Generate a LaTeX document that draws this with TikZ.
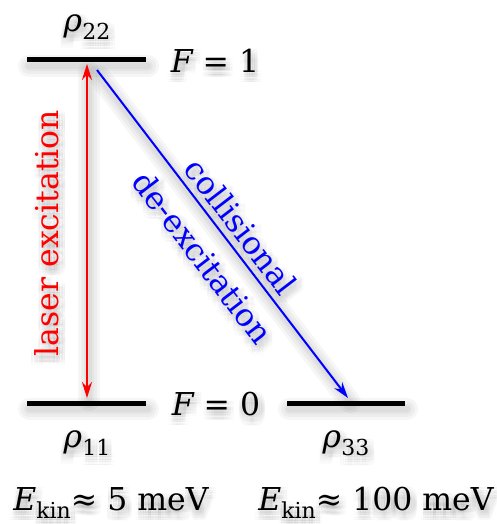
\documentclass[tikz,border=0pt]{standalone}
\usepackage{fontspec}
\setmainfont{DejaVu Serif}
\usetikzlibrary{arrows.meta,calc}
\newcommand{\sbs}[1]{\raisebox{-0.25em}{\fontsize{22}{22}\selectfont #1}}
% soft shadow copies of a text
\newcommand{\txtshadow}[3]{%
  \foreach \dx in {-5,-2.5,0,2.5,5}{\foreach \dy in {-5,-2.5,0,2.5,5}{%
    \node[lbl,#2,text=black,text opacity=0.02] at ($(#1)+(\dx+2,\dy+5)$) {#3};}}}
\begin{document}
\begin{tikzpicture}[x=1pt,y=-1pt,
  level/.style={line width=5pt,black},
  lbl/.style={font=\fontsize{31.5}{33}\selectfont,inner sep=0pt},
  lshadow/.style={black,opacity=0.035,line cap=round}]
\useasboundingbox (0,0) rectangle (497,524);
% positions
\coordinate (pr22) at (87,27);
\coordinate (pf1) at (215,61);
\coordinate (pf0) at (216,404);
\coordinate (pr11) at (87,443);
\coordinate (pr33) at (346,443);
\coordinate (pek1) at (111,503);
\coordinate (pek2) at (376,503);
\coordinate (plaser) at (47,233);
\coordinate (pcoll) at (241,226);
\coordinate (pdeex) at (203,257);
% shadows of lines
\foreach \w in {22,16,10,6}{
  \draw[lshadow,line width=\w pt] (29,66) -- (148,66);
  \draw[lshadow,line width=\w pt] (29,409) -- (148,409);
  \draw[lshadow,line width=\w pt] (289,409) -- (407,409);
  \draw[lshadow,line width=\w pt] (89,72) -- (89,400);
  \draw[lshadow,line width=\w pt] (99,76) -- (350,402);
}
% shadows of texts
\txtshadow{pr22}{}{\itshape ρ\sbs{\upshape 22}}
\txtshadow{pf1}{}{\itshape F\upshape\ = 1}
\txtshadow{pf0}{}{\itshape F\upshape\ = 0}
\txtshadow{pr11}{}{\itshape ρ\sbs{\upshape 11}}
\txtshadow{pr33}{}{\itshape ρ\sbs{\upshape 33}}
\txtshadow{pek1}{}{\itshape E\sbs{\upshape kin}\upshape≈ 5 meV}
\txtshadow{pek2}{}{\itshape E\sbs{\upshape kin}\upshape≈ 100 meV}
\txtshadow{plaser}{rotate=90}{laser excitation}
\txtshadow{pcoll}{rotate=-52.5}{collisional}
\txtshadow{pdeex}{rotate=-52.5}{de-excitation}
% levels
\draw[level] (27,60) -- (146,60);
\draw[level] (27,403) -- (146,403);
\draw[level] (287,403) -- (405,403);
% labels
\node[lbl] (r22) at (pr22) {\itshape ρ\sbs{\upshape 22}};
\node[lbl] (f1) at (pf1) {\itshape F\upshape\ = 1};
\node[lbl] (f0) at (pf0) {\itshape F\upshape\ = 0};
\node[lbl] (r11) at (pr11) {\itshape ρ\sbs{\upshape 11}};
\node[lbl] (r33) at (pr33) {\itshape ρ\sbs{\upshape 33}};
\node[lbl] (ek1) at (pek1) {\itshape E\sbs{\upshape kin}\upshape≈ 5 meV};
\node[lbl] (ek2) at (pek2) {\itshape E\sbs{\upshape kin}\upshape≈ 100 meV};
% arrows
\coordinate (redtop) at (87,64);
\coordinate (redbot) at (87,398);
\coordinate (bluetop) at (97,70);
\coordinate (bluebot) at (348,398);
\draw[red,line width=2pt,{Stealth[length=16pt,width=10pt]}-{Stealth[length=16pt,width=10pt]}] (redtop) -- (redbot);
\node[lbl,red,rotate=90] (laser) at (plaser) {laser excitation};
\draw[blue,line width=2pt,-{Stealth[length=16pt,width=10pt]}] (bluetop) -- (bluebot);
\node[lbl,blue,rotate=-52.5] (coll) at (pcoll) {collisional};
\node[lbl,blue,rotate=-52.5] (deex) at (pdeex) {de-excitation};
\end{tikzpicture}
\end{document}
